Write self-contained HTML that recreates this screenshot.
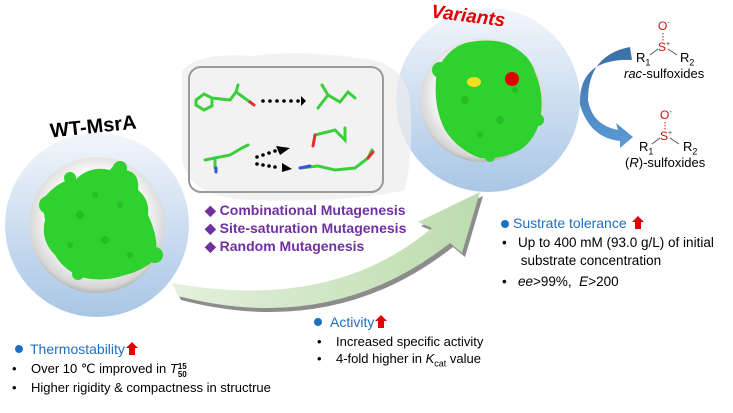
<!DOCTYPE html>
<html><head><meta charset="utf-8"><style>
html,body{margin:0;padding:0;background:#fff;}
body{width:733px;height:413px;position:relative;overflow:hidden;font-family:"Liberation Sans",sans-serif;}
.t{position:absolute;white-space:nowrap;}
.ra{display:inline-block;width:12px;height:13px;vertical-align:-1px;margin-left:1px;}
</style></head><body>
<svg width="733" height="413" style="position:absolute;left:0;top:0">
<defs>
<linearGradient id="ring" x1="0" y1="0" x2="0" y2="1">
<stop offset="0" stop-color="#f2f6fb"/><stop offset="1" stop-color="#a9c6e6"/></linearGradient>
<radialGradient id="ball" cx="0.5" cy="0.45" r="0.6">
<stop offset="0.55" stop-color="#ffffff"/><stop offset="0.85" stop-color="#d6d6d6"/><stop offset="1" stop-color="#8c8c8c"/></radialGradient>
<linearGradient id="garr" x1="0" y1="0" x2="1" y2="0">
<stop offset="0" stop-color="#e4f0dc"/><stop offset="1" stop-color="#bcdcae"/></linearGradient>
<linearGradient id="barr" x1="0" y1="0" x2="0" y2="1">
<stop offset="0" stop-color="#3a6fa8"/><stop offset="1" stop-color="#5b9bd5"/></linearGradient>
</defs>
<circle cx="97" cy="225" r="92" fill="url(#ring)"/>
<circle cx="97" cy="225" r="68" fill="url(#ball)"/>
<g fill="#2fd12f">
<path d="M42,200 Q60,178 75,180 Q90,165 110,170 Q118,158 125,170 Q140,172 138,190 Q150,200 148,215 Q160,240 155,260 Q140,272 125,275 Q105,282 85,278 Q65,272 55,255 Q40,240 45,220 Z"/>
<circle cx="48" cy="205" r="9"/><circle cx="120" cy="168" r="7"/><circle cx="155" cy="255" r="8"/><circle cx="78" cy="274" r="6"/><circle cx="70" cy="178" r="6"/>
</g>
<g fill="#1fa81f" opacity="0.5"><circle cx="80" cy="215" r="4"/><circle cx="105" cy="240" r="4"/><circle cx="120" cy="205" r="3"/><circle cx="95" cy="195" r="3"/><circle cx="70" cy="245" r="3"/><circle cx="130" cy="255" r="3"/></g>
<circle cx="488" cy="100" r="92" fill="url(#ring)"/>
<circle cx="482" cy="100" r="62" fill="url(#ball)"/>
<g fill="#2fd12f">
<path d="M437,70 Q450,45 470,42 Q495,38 510,45 Q530,55 535,72 Q545,95 540,120 Q535,140 520,150 Q500,160 480,158 Q458,150 445,130 Q432,105 437,70 Z"/>
<circle cx="440" cy="70" r="8"/><circle cx="538" cy="120" r="6"/><circle cx="490" cy="157" r="5"/></g>
<g fill="#1fa81f" opacity="0.5"><circle cx="465" cy="100" r="4"/><circle cx="500" cy="120" r="4"/><circle cx="515" cy="90" r="3"/><circle cx="480" cy="135" r="3"/></g>
<ellipse cx="474" cy="82" rx="7" ry="5" fill="#f0e020"/>
<circle cx="512" cy="79" r="7" fill="#e00000"/>
<path d="M175,287 Q335,316 435,232 L421,226 L483,196 L465,257 L453,247 Q335,340 181,300 Z" fill="#8c8c8c"/>
<path d="M172,283 Q332,312 432,228 L418,222 L480,192 L462,253 L450,243 Q332,336 178,296 Z" fill="url(#garr)"/>
<path d="M182,70 Q200,52 250,56 Q300,50 360,58 Q405,62 410,100 Q414,150 405,190 Q350,203 250,200 Q190,198 182,160 Z" fill="#ececec" opacity="0.7"/>
<rect x="189" y="67" width="194" height="125" rx="12" fill="none" stroke="#9a9a9a" stroke-width="2"/>
<g stroke-linecap="round" fill="none">
<path d="M196,100 L204,94 L212,98 L212,106 L204,110 L196,105 Z M212,98 L230,100 L236,92 L250,102 M236,92 L238,85" stroke="#3ccf3c" stroke-width="3"/>
<path d="M318,108 L328,95 L340,102 L348,92 L355,98 M328,95 L322,85" stroke="#3ccf3c" stroke-width="3"/>
<path d="M205,160 L215,158 L230,155 L242,148 L248,145 M215,158 L215,168" stroke="#3ccf3c" stroke-width="3"/>
<path d="M315,135 L335,130 L345,140 L345,128" stroke="#3ccf3c" stroke-width="3"/>
<path d="M300,168 L318,166 L335,170 L355,168 L368,158 L372,150" stroke="#3ccf3c" stroke-width="3"/>
<path d="M300,168 L310,166" stroke="#3a50e0" stroke-width="3"/>
<path d="M216,168 L216,172" stroke="#3a50e0" stroke-width="3"/>
<path d="M250,102 L254,105 M315,135 L313,146 M368,158 L373,152" stroke="#e03030" stroke-width="3"/>
</g>
<g fill="#000">
<circle cx="263" cy="101" r="1.8"/><circle cx="270" cy="101" r="1.8"/><circle cx="277" cy="101" r="1.8"/><circle cx="284" cy="101" r="1.8"/><circle cx="291" cy="101" r="1.8"/><circle cx="298" cy="101" r="1.8"/>
<path d="M301,96 L306,101 L301,106 Z"/>
<circle cx="257" cy="157" r="1.8"/><circle cx="263" cy="155" r="1.8"/><circle cx="269" cy="153" r="1.8"/><circle cx="275" cy="151" r="1.8"/><path d="M276,146 L290,148 L280,155 Z"/>
<circle cx="257" cy="164" r="1.8"/><circle cx="263" cy="165" r="1.8"/><circle cx="269" cy="166" r="1.8"/><circle cx="275" cy="167" r="1.8"/><path d="M282,163 L292,169 L282,172 Z"/>
</g>
<path d="M630,47 Q588,55 588,100 Q592,125 618,130 L616,123 L633,137 L620,148 L620,141 Q590,138 580,105 Q578,58 632,60 Z" fill="url(#barr)"/>
<g stroke="#555" stroke-width="1" fill="none">
<path d="M650,55 L658,49 M668,49 L677,55"/>
<path d="M652,144 L660,138 M670,138 L679,144"/>
</g>
<g stroke="#d01010" stroke-width="1" stroke-dasharray="1.5,1.5"><path d="M663,33 L663,41"/><path d="M665,122 L665,130"/></g>
<circle cx="19" cy="349" r="4" fill="#1f6fc0"/>
<circle cx="318" cy="322" r="4" fill="#1f6fc0"/>
<circle cx="505" cy="224" r="4" fill="#1f6fc0"/>
</svg>
<div class="t" style="left:50px;top:116px;font:bold 20px 'Liberation Sans',sans-serif;transform:rotate(-6deg);">WT-MsrA</div>
<div class="t" style="left:431px;top:6px;font:bold italic 19px 'Liberation Sans',sans-serif;color:#e00000;transform:rotate(7deg);">Variants</div>
<div class="t" style="left:205px;top:201px;font:bold 14px 'Liberation Sans',sans-serif;color:#7030a0;line-height:18px;">◆ Combinational Mutagenesis<br>◆ Site-saturation Mutagenesis<br>◆ Random Mutagenesis</div>
<div class="t" style="left:658px;top:19px;font:12px 'Liberation Sans',sans-serif;color:#d01010;">O<sup style="font-size:7px;color:#333">-</sup></div>
<div class="t" style="left:658px;top:40px;font:12px 'Liberation Sans',sans-serif;color:#d01010;">S<sup style="font-size:7px;color:#333">+</sup></div>
<div class="t" style="left:636px;top:50px;font:13px 'Liberation Sans',sans-serif;">R<sub style="font-size:9px">1</sub></div>
<div class="t" style="left:680px;top:50px;font:13px 'Liberation Sans',sans-serif;">R<sub style="font-size:9px">2</sub></div>
<div class="t" style="left:624px;top:66px;font:13px 'Liberation Sans',sans-serif;"><i>rac</i>-sulfoxides</div>
<div class="t" style="left:660px;top:108px;font:12px 'Liberation Sans',sans-serif;color:#d01010;">O<sup style="font-size:7px;color:#333">-</sup></div>
<div class="t" style="left:660px;top:129px;font:12px 'Liberation Sans',sans-serif;color:#d01010;">S<sup style="font-size:7px;color:#333">+</sup></div>
<div class="t" style="left:639px;top:139px;font:13px 'Liberation Sans',sans-serif;">R<sub style="font-size:9px">1</sub></div>
<div class="t" style="left:683px;top:139px;font:13px 'Liberation Sans',sans-serif;">R<sub style="font-size:9px">2</sub></div>
<div class="t" style="left:625px;top:155px;font:13px 'Liberation Sans',sans-serif;">(<i>R</i>)-sulfoxides</div>
<div class="t" style="left:513px;top:215px;font:14px 'Liberation Sans',sans-serif;color:#1f6fc0;">Sustrate tolerance <svg class="ra" viewBox="0 0 12 13"><path d="M0,6 L6,0 L12,6 L9,6 L9,13 L3,13 L3,6 Z" fill="#e00000"/></svg></div>
<div class="t" style="left:502px;top:234px;font:13.5px 'Liberation Sans',sans-serif;line-height:18px;">•&nbsp;&nbsp; Up to 400 mM (93.0 g/L) of initial<br>&nbsp;&nbsp;&nbsp;&nbsp; substrate concentration</div>
<div class="t" style="left:502px;top:274px;font:13.5px 'Liberation Sans',sans-serif;">•&nbsp;&nbsp; <i>ee</i>&gt;99%,&nbsp; <i>E</i>&gt;200</div>
<div class="t" style="left:330px;top:314px;font:14px 'Liberation Sans',sans-serif;color:#1f6fc0;">Activity<svg class="ra" viewBox="0 0 12 13"><path d="M0,6 L6,0 L12,6 L9,6 L9,13 L3,13 L3,6 Z" fill="#e00000"/></svg></div>
<div class="t" style="left:317px;top:333px;font:13px 'Liberation Sans',sans-serif;line-height:17px;">•&nbsp;&nbsp;&nbsp; Increased specific activity<br>•&nbsp;&nbsp;&nbsp; 4-fold higher in <i>K</i><sub style="font-size:9px">cat</sub> value</div>
<div class="t" style="left:30px;top:341px;font:14px 'Liberation Sans',sans-serif;color:#1f6fc0;">Thermostability<svg class="ra" viewBox="0 0 12 13"><path d="M0,6 L6,0 L12,6 L9,6 L9,13 L3,13 L3,6 Z" fill="#e00000"/></svg></div>
<div class="t" style="left:12px;top:360px;font:13px 'Liberation Sans',sans-serif;line-height:17px;">•&nbsp;&nbsp;&nbsp; Over 10 ℃ improved in <i>T</i><span style="display:inline-block;vertical-align:-4px;font:bold 8px 'Liberation Sans',sans-serif;line-height:8px;">15<br>50</span><br>•&nbsp;&nbsp;&nbsp; Higher rigidity &amp; compactness in structrue</div>
</body></html>
